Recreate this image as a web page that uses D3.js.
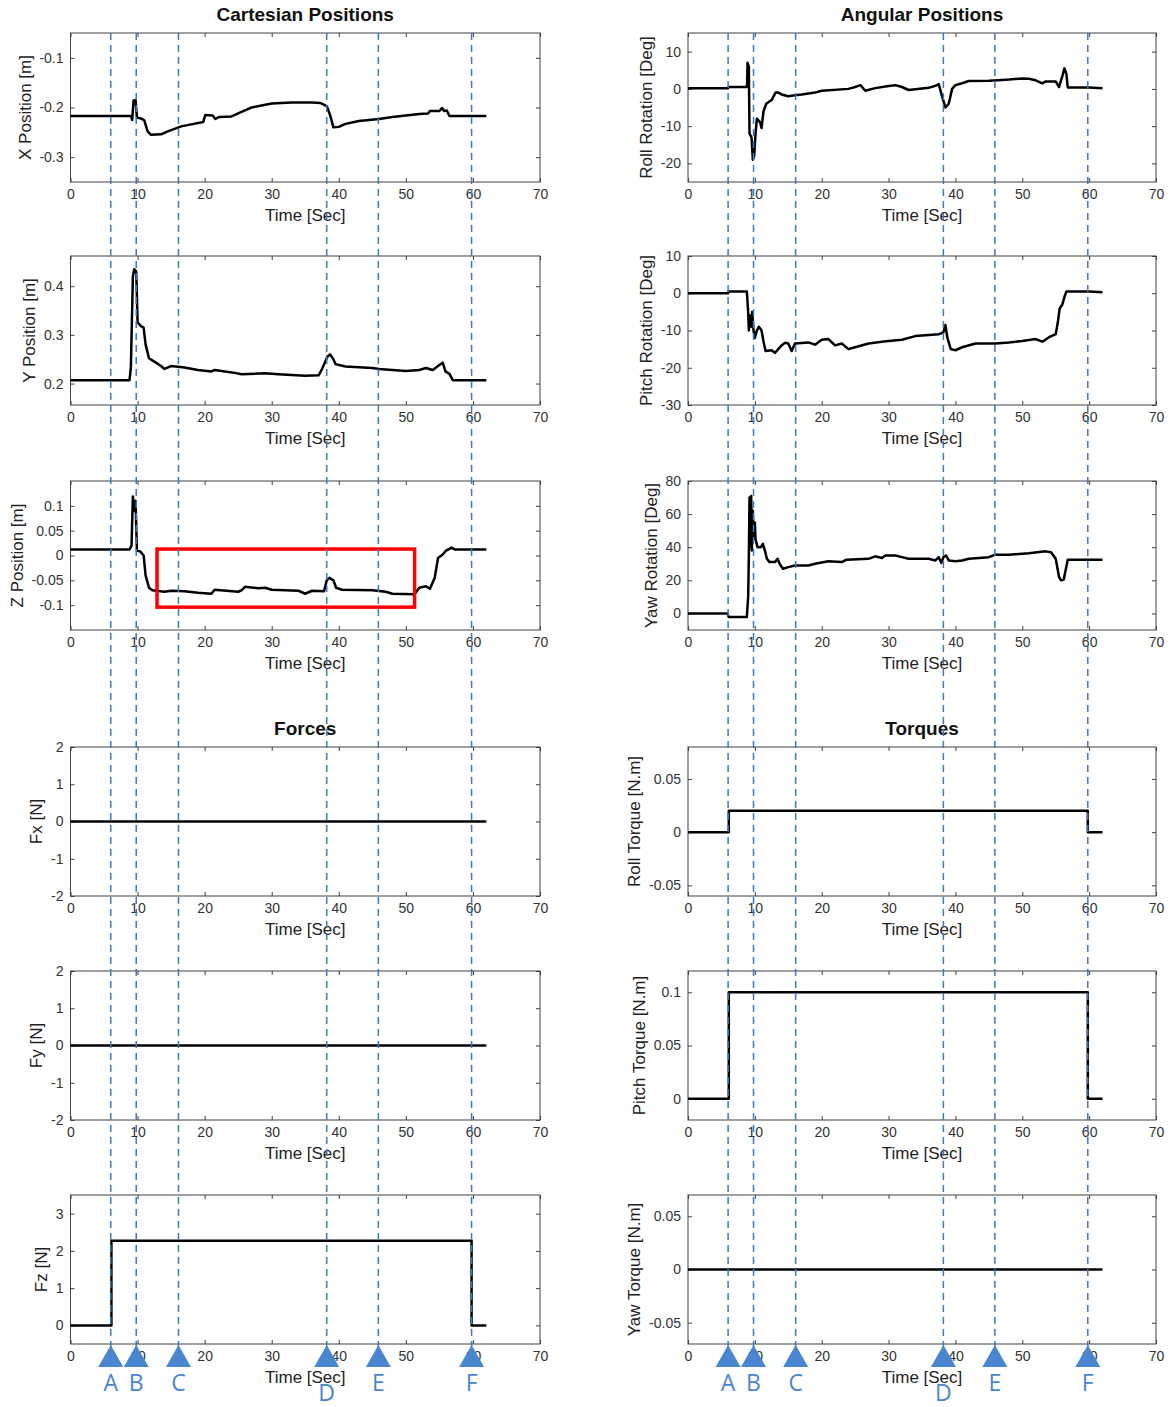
<!DOCTYPE html>
<html>
<head>
<meta charset="utf-8">
<script src="https://cdn.jsdelivr.net/npm/d3@7"></script>
<style>
  body { margin: 0; background: #fff; }
  svg { display: block; font-family: Arial, "Liberation Sans", sans-serif; }
  .frame { fill: none; stroke: #404040; stroke-width: 1px; }
  .tick line { stroke: #404040; }
  .tick text { fill: #333; font-size: 14px; }
  .xlabel, .ylabel { fill: #222; font-size: 17px; }
  .title { font-size: 19px; font-weight: bold; fill: #111; }
  .trace { fill: none; stroke: #000; stroke-width: 2.5px; stroke-linejoin: round; }
  .event { stroke: #3f78c0; stroke-width: 1.5px; stroke-dasharray: 7,5; }
  .marker { fill: #4a86d0; }
  .marker-label { fill: #4a86d0; font-family: "Open Sans", sans-serif; font-size: 23px; }
  .box { fill: none; stroke: #ff0000; stroke-width: 3.5px; }
</style>
</head>
<body>
<script>
// time axis
var timeTicks = [0, 10, 20, 30, 40, 50, 60, 70];

// event markers A..F
var markerTimes = [6.0, 9.8, 16.1, 38.2, 45.9, 59.8];
var markerLabels = ["A", "B", "C", "D", "E", "F"];

// Cartesian positions
var tX = [0, 9.0, 9.2, 9.4, 9.7, 9.9, 10.5, 11.0, 11.5, 12.0, 13.5, 14.5, 15.5, 16.5, 18, 19.8, 20.1, 21.2, 21.6, 22.2, 24, 25, 26, 27, 28.5, 30, 33, 36, 37.3, 38.2, 38.7, 39.2, 40, 41, 43, 46, 48, 50, 52, 53.3, 53.6, 55, 55.4, 55.7, 56.1, 56.5, 62];
var vX = [-0.217, -0.217, -0.225, -0.186, -0.185, -0.22, -0.222, -0.226, -0.248, -0.255, -0.254, -0.248, -0.243, -0.238, -0.234, -0.229, -0.215, -0.216, -0.223, -0.219, -0.218, -0.212, -0.206, -0.2, -0.196, -0.192, -0.19, -0.19, -0.191, -0.197, -0.215, -0.24, -0.239, -0.233, -0.227, -0.223, -0.219, -0.216, -0.213, -0.212, -0.207, -0.207, -0.201, -0.207, -0.206, -0.217, -0.217];

var tY = [0, 8.8, 9.0, 9.3, 9.5, 9.8, 10.0, 10.5, 10.9, 11.2, 11.7, 12.5, 13.5, 14, 15, 17, 19, 21, 21.5, 23, 24.5, 25.5, 29, 31, 35, 37, 37.5, 38.3, 38.7, 39.2, 39.5, 41, 45, 46, 48, 50, 52, 53, 54, 55, 55.5, 55.9, 56.5, 57, 62];
var vY = [0.207, 0.207, 0.233, 0.42, 0.435, 0.43, 0.326, 0.318, 0.315, 0.28, 0.252, 0.245, 0.236, 0.23, 0.236, 0.233, 0.228, 0.225, 0.228, 0.225, 0.222, 0.219, 0.221, 0.219, 0.216, 0.217, 0.23, 0.255, 0.26, 0.25, 0.24, 0.235, 0.232, 0.23, 0.228, 0.226, 0.228, 0.232, 0.228, 0.238, 0.243, 0.225, 0.22, 0.207, 0.207];

var tZ = [0, 8.8, 9.1, 9.3, 9.5, 9.7, 9.9, 10.4, 10.9, 11.2, 11.7, 12.2, 14, 15, 17, 19, 21, 21.5, 25, 25.5, 26, 28, 29, 30, 34, 35, 36, 37.8, 38.2, 38.6, 39.2, 39.6, 40.5, 45, 47, 48, 51.3, 52, 53, 53.6, 54.3, 54.8, 55.5, 56, 56.8, 57.3, 62];
var vZ = [0.012, 0.012, 0.02, 0.119, 0.09, 0.11, 0.01, 0.008, 0.0, -0.04, -0.065, -0.07, -0.073, -0.071, -0.072, -0.075, -0.077, -0.069, -0.073, -0.07, -0.063, -0.066, -0.065, -0.069, -0.071, -0.077, -0.071, -0.072, -0.05, -0.045, -0.05, -0.065, -0.069, -0.07, -0.073, -0.077, -0.078, -0.065, -0.062, -0.067, -0.045, -0.005, 0.002, 0.01, 0.016, 0.012, 0.012];

// Angular positions
var tRoll = [0, 6, 6.05, 8.8, 8.85, 8.9, 9.1, 9.2, 9.5, 9.7, 9.9, 10.1, 10.3, 10.8, 11.0, 11.3, 11.7, 12.5, 13.1, 13.5, 14, 15, 16, 17, 19, 20, 24, 25, 25.8, 26.5, 28, 30, 31, 32, 33, 36, 37, 37.5, 38, 38.5, 39, 39.5, 40, 41, 42, 45, 47, 48, 50, 51, 52, 53, 53.5, 55, 55.5, 56, 56.3, 56.6, 56.8, 60, 62];
var vRoll = [0.2, 0.2, 0.5, 0.5, 1.5, 7, 6, -12, -13, -19, -18, -12, -8, -9, -10.5, -6, -4, -3, -1, -1, -1.5, -2, -1.7, -1.5, -1, -0.5, 0, 0.5, 1, -0.5, 0.2, 0.8, 1, 0.5, -0.3, 0.3, 0.8, 1.3, -2, -5, -4, 0, 1, 1.5, 2.1, 2.2, 2.4, 2.5, 2.8, 2.7, 2.3, 1.5, 2.0, 2.0, 0.5, 3.5, 5.5, 4, 0.4, 0.4, 0.2];

var tPitch = [0, 6, 6.05, 8.8, 9.0, 9.1, 9.3, 9.5, 9.6, 9.8, 10, 10.3, 10.6, 11.0, 11.3, 11.6, 12.5, 13, 13.5, 14, 14.5, 15, 15.5, 16, 18, 19, 20, 21, 22, 23, 24, 25, 27, 29, 30, 32, 34, 36, 37.5, 38.2, 38.5, 38.8, 39.3, 40, 41, 43, 46, 48, 50, 52, 53, 54, 55, 55.3, 55.6, 56, 56.3, 56.6, 60, 62];
var vPitch = [0, 0, 0.5, 0.5, -5, -10, -6, -9, -5, -10, -12, -10, -9, -10, -13, -15.5, -15.3, -16, -15, -14, -13.3, -13.5, -15.5, -13.5, -13.2, -13.8, -12.5, -12.3, -14, -13.5, -15, -14.5, -13.5, -13, -12.8, -12.5, -11.5, -11.2, -11, -10.5, -8.5, -12, -15, -15.3, -14.5, -13.5, -13.5, -13.2, -12.8, -12.3, -13, -11.8, -11, -8, -4, -3, -1, 0.5, 0.5, 0.3];

var tYaw = [0, 5.9, 6.1, 8.8, 9.0, 9.1, 9.2, 9.35, 9.45, 9.55, 9.7, 9.8, 10, 10.1, 10.4, 10.9, 11.2, 11.5, 11.8, 12.2, 13, 13.4, 13.7, 14.2, 15, 16, 18, 19, 21, 23, 23.7, 27, 28, 29, 29.5, 31, 32, 33, 36, 37, 37.5, 37.9, 38.2, 38.6, 39, 40, 41, 42, 45, 46, 48, 50, 51, 53.5, 54.3, 55, 55.5, 55.8, 56.2, 56.8, 62];
var vYaw = [0, 0, -2.2, -2.2, 10, 35, 70, 40, 71, 38, 62, 45, 55, 45, 40, 40, 42, 38, 33, 31, 31, 33, 30, 27, 28, 29, 29, 30, 31.5, 31, 32.5, 33, 34.5, 33.5, 35, 35, 34, 33, 33, 32, 34, 30.5, 34, 35, 32, 31.5, 32, 33, 34, 35.5, 35.5, 36, 36.3, 37.5, 37, 33, 22, 20, 20.5, 32.5, 32.5];

// Forces and torques (step inputs)
var tStep = [0, 6.1, 6.1, 59.8, 59.8, 62];
var tFlat = [0, 62];
var vFx = [0, 0];
var vFy = [0, 0];
var vFz = [0, 0, 2.27, 2.27, 0, 0];
var vRollTq = [0, 0, 0.02, 0.02, 0, 0];
var vPitchTq = [0, 0, 0.1, 0.1, 0, 0];
var vYawTq = [0, 0];

// highlighted region on Z position
var boxT = [12.9, 51.3];
var boxV = [0.013, -0.104];

var width = 1171, height = 1407;
var colX = [[70.5, 540], [688, 1156]];
var rowTop = [33, 256, 481, 747, 971, 1195];
var plotH = 149;

var panels = [
  {col: 0, row: 0, t: tX, v: vX, domain: [-0.35, -0.05], ticks: [-0.3, -0.2, -0.1], label: "X Position [m]", title: "Cartesian Positions"},
  {col: 0, row: 1, t: tY, v: vY, domain: [0.156, 0.462], ticks: [0.2, 0.3, 0.4], label: "Y Position [m]"},
  {col: 0, row: 2, t: tZ, v: vZ, domain: [-0.15, 0.15], ticks: [-0.1, -0.05, 0, 0.05, 0.1], label: "Z Position [m]", box: true},
  {col: 0, row: 3, t: tFlat, v: vFx, domain: [-2, 2], ticks: [-2, -1, 0, 1, 2], label: "Fx [N]", title: "Forces"},
  {col: 0, row: 4, t: tFlat, v: vFy, domain: [-2, 2], ticks: [-2, -1, 0, 1, 2], label: "Fy [N]"},
  {col: 0, row: 5, t: tStep, v: vFz, domain: [-0.5, 3.5], ticks: [0, 1, 2, 3], label: "Fz [N]"},
  {col: 1, row: 0, t: tRoll, v: vRoll, domain: [-25, 15], ticks: [-20, -10, 0, 10], label: "Roll Rotation [Deg]", title: "Angular Positions"},
  {col: 1, row: 1, t: tPitch, v: vPitch, domain: [-30, 10], ticks: [-30, -20, -10, 0, 10], label: "Pitch Rotation [Deg]"},
  {col: 1, row: 2, t: tYaw, v: vYaw, domain: [-10, 80], ticks: [0, 20, 40, 60, 80], label: "Yaw Rotation [Deg]"},
  {col: 1, row: 3, t: tStep, v: vRollTq, domain: [-0.06, 0.08], ticks: [-0.05, 0, 0.05], label: "Roll Torque [N.m]", title: "Torques"},
  {col: 1, row: 4, t: tStep, v: vPitchTq, domain: [-0.02, 0.12], ticks: [0, 0.05, 0.1], label: "Pitch Torque [N.m]"},
  {col: 1, row: 5, t: tFlat, v: vYawTq, domain: [-0.07, 0.07], ticks: [-0.05, 0, 0.05], label: "Yaw Torque [N.m]"}
];

var svg = d3.select("body").append("svg")
  .attr("width", width)
  .attr("height", height);

var fmt = function(d) { return String(d); };

panels.forEach(function(p) {
  var x0 = colX[p.col][0], x1 = colX[p.col][1];
  var top = rowTop[p.row], bottom = top + plotH;

  var x = d3.scaleLinear().domain([0, 70]).range([x0, x1]);
  var y = d3.scaleLinear().domain(p.domain).range([bottom, top]);

  var g = svg.append("g");

  if (p.title) {
    g.append("text")
      .attr("class", "title")
      .attr("x", (x0 + x1) / 2)
      .attr("y", top - 12)
      .attr("text-anchor", "middle")
      .text(p.title);
  }

  g.append("g")
    .attr("transform", "translate(0," + bottom + ")")
    .call(d3.axisBottom(x).tickValues(timeTicks).tickFormat(fmt)
      .tickSizeInner(-4).tickSizeOuter(0).tickPadding(7))
    .call(function(a) { a.select(".domain").remove(); });

  g.append("g")
    .attr("transform", "translate(0," + top + ")")
    .call(d3.axisTop(x).tickValues(timeTicks).tickFormat("")
      .tickSizeInner(-4).tickSizeOuter(0))
    .call(function(a) { a.select(".domain").remove(); });

  var yAxis = g.append("g")
    .attr("transform", "translate(" + x0 + ",0)")
    .call(d3.axisLeft(y).tickValues(p.ticks).tickFormat(fmt)
      .tickSizeInner(-4).tickSizeOuter(0).tickPadding(7))
    .call(function(a) { a.select(".domain").remove(); });

  g.append("g")
    .attr("transform", "translate(" + x1 + ",0)")
    .call(d3.axisRight(y).tickValues(p.ticks).tickFormat("")
      .tickSizeInner(-4).tickSizeOuter(0))
    .call(function(a) { a.select(".domain").remove(); });

  g.append("rect")
    .attr("class", "frame")
    .attr("x", x0).attr("y", top)
    .attr("width", x1 - x0).attr("height", plotH);

  g.selectAll(".tick text").attr("font-family", null);
  g.selectAll(".tick text").attr("font-size", null);

  var maxW = 0;
  yAxis.selectAll(".tick text").each(function() {
    maxW = Math.max(maxW, this.getBBox().width);
  });

  g.append("text")
    .attr("class", "ylabel")
    .attr("transform", "translate(" + (x0 - 7 - maxW - 14) + "," + (top + plotH / 2) + ") rotate(-90)")
    .attr("text-anchor", "middle")
    .attr("dominant-baseline", "central")
    .text(p.label);

  g.append("text")
    .attr("class", "xlabel")
    .attr("x", (x0 + x1) / 2)
    .attr("y", bottom + 39)
    .attr("text-anchor", "middle")
    .text("Time [Sec]");

  var line = d3.line()
    .x(function(d, i) { return x(p.t[i]); })
    .y(function(d) { return y(d); });

  g.append("path")
    .attr("class", "trace")
    .attr("d", line(p.v));

  if (p.box) {
    g.append("rect")
      .attr("class", "box")
      .attr("x", x(boxT[0]))
      .attr("y", y(boxV[0]))
      .attr("width", x(boxT[1]) - x(boxT[0]))
      .attr("height", y(boxV[1]) - y(boxV[0]));
  }
});

// event lines, triangles and letters for each column
colX.forEach(function(c) {
  var x = d3.scaleLinear().domain([0, 70]).range(c);

  svg.append("g").selectAll("line")
    .data(markerTimes)
    .enter().append("line")
    .attr("class", "event")
    .attr("x1", function(d) { return x(d); })
    .attr("x2", function(d) { return x(d); })
    .attr("y1", rowTop[0])
    .attr("y2", 1352);

  svg.append("g").selectAll("path")
    .data(markerTimes)
    .enter().append("path")
    .attr("class", "marker")
    .attr("d", function(d) {
      var cx = x(d);
      return "M" + cx + ",1345L" + (cx + 12.5) + ",1367L" + (cx - 12.5) + ",1367Z";
    });

  svg.append("g").selectAll("text")
    .data(markerTimes)
    .enter().append("text")
    .attr("class", "marker-label")
    .attr("x", function(d) { return x(d); })
    .attr("y", function(d, i) { return markerLabels[i] === "D" ? 1401 : 1391; })
    .attr("text-anchor", "middle")
    .text(function(d, i) { return markerLabels[i]; });
});
</script>
</body>
</html>
